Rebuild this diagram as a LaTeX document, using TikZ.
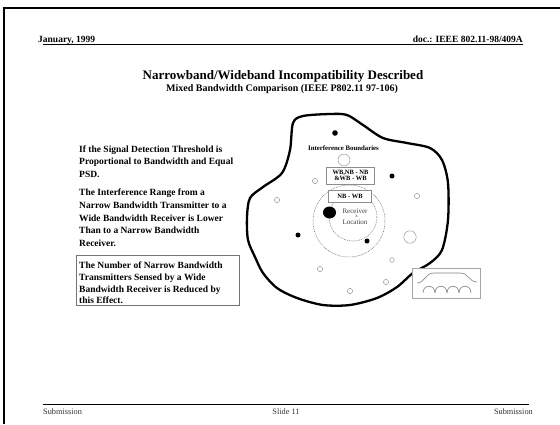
\documentclass[tikz,border=0pt]{standalone}
\usepackage{fontspec}
\setmainfont{Liberation Serif}
\begin{document}
\begin{tikzpicture}[x=1pt,y=-1pt,
  hdr/.style={font=\bfseries\fontsize{9.5}{11}\selectfont, inner sep=0pt},
  body/.style={font=\bfseries\fontsize{9.5}{12.8}\selectfont, align=left, inner sep=0pt, anchor=north west},
  foot/.style={font=\fontsize{8.3}{9}\selectfont, inner sep=0pt, text=black!80},
  lbl/.style={draw=black!45, fill=white, font=\bfseries\fontsize{6.5}{7.5}\selectfont, align=center, inner sep=0pt},
  bigdot/.style={fill=black},
  smallring/.style={draw=black!40, line width=0.5pt},
  rangering/.style={draw=black!60, line width=0.5pt, dash pattern=on 0.8pt off 0.9pt},
  blob/.style={line width=2.3pt, line join=round},
  spec/.style={draw=black!50, line width=0.6pt}]
\useasboundingbox (0,0) rectangle (560,424);
\fill[white] (0,0) rectangle (560,424);
% slide border
\draw[line width=2pt] (4.3,424) -- (4.3,7.8) -- (560,7.8);
% header
\node[hdr, anchor=base west] (date) at (38,42) {January, 1999};
\node[hdr, anchor=base east] (doc) at (523,42) {doc.: IEEE 802.11-98/409A};
\draw[line width=1.2pt] (43,44.6) -- (523,44.6);
% titles
\node[font=\bfseries\fontsize{13}{15}\selectfont, inner sep=0pt, anchor=base] (title) at (283,79.5) {Narrowband/Wideband Incompatibility Described};
\node[font=\bfseries\fontsize{10}{11}\selectfont, inner sep=0pt, anchor=base] (subtitle) at (282,91.5) {Mixed Bandwidth Comparison (IEEE P802.11 97-106)};
% body text
\node[body] (p1) at (79,145.2) {If the Signal Detection Threshold is\\Proportional to Bandwidth and Equal\\PSD.};
\node[body] (p2) at (79,188.7) {The Interference Range from a\\Narrow Bandwidth Transmitter to a\\Wide Bandwidth Receiver is Lower\\Than to a Narrow Bandwidth\\Receiver.};
\node[draw=black!55, line width=0.6pt, anchor=north west, minimum width=163pt, minimum height=50pt, inner sep=0pt] (frame) at (76,255) {};
\node[body, font=\bfseries\fontsize{9.5}{11.8}\selectfont] (p3) at (79,261.7) {The Number of Narrow Bandwidth\\Transmitters Sensed by a Wide\\Bandwidth Receiver is Reduced by\\this Effect.};
% interference area
\draw[blob] plot[smooth cycle, tension=0.5] coordinates {
 (303,116) (330,114) (347,115) (363,125) (383,138) (407,143) (430,148)
 (442,160) (448,183) (448,220) (442,250) (430,263) (413,273) (397,287)
 (377,298) (350,305) (323,305) (297,298) (277,288) (263,273) (255,257)
 (248,240) (247,217) (250,198) (263,187) (282,173) (290,150) (293,123)};
% ranges
\draw[rangering] (349,221) circle (36);
\draw[rangering] (353,217) circle (24);
% transmitters
\fill[bigdot] (335,133) circle (2.8);
\fill[bigdot] (392,176) circle (2.5);
\fill[bigdot] (298,235) circle (2.5);
\fill[bigdot] (367,241) circle (2.5);
\draw[smallring] (344,160) circle (6);
\draw[smallring] (315,181) circle (2.6);
\draw[smallring] (417,196) circle (2.6);
\draw[smallring] (277,200) circle (2.6);
\draw[smallring] (410,237) circle (6.2);
\draw[smallring] (392,260) circle (2.3);
\draw[smallring] (320,269) circle (2.6);
\draw[smallring] (386,282) circle (2.6);
\draw[smallring] (350,291) circle (2.6);
% labels
\node[font=\bfseries\fontsize{6.8}{8}\selectfont, inner sep=0pt] (ib) at (343.5,148) {Interference Boundaries};
\node[lbl, minimum width=48pt, minimum height=17pt] (wbnb) at (350.5,175.5) {WB,NB - NB\\[-1pt]\&WB - WB};
\node[lbl, minimum width=43pt, minimum height=12pt] (nbwb) at (350,196) {NB - WB};
% receiver
\fill (329.5,212.5) ellipse (6.5 and 6);
\node[font=\fontsize{7}{8}\selectfont, inner sep=0pt, text=black!75] (rx) at (355,211) {Receiver};
\node[font=\fontsize{5}{6}\selectfont, inner sep=0pt, text=black!75] (rxx) at (356.5,216.5) {x};
\node[font=\fontsize{7}{8}\selectfont, inner sep=0pt, text=black!75] (loc) at (355,222) {Location};
% spectrum inset
\node[draw=black!35, fill=white, minimum width=68pt, minimum height=30pt, inner sep=0pt] (inset) at (446,283) {};
\draw[spec] (417,283) .. controls (425,283) and (425,273) .. (434,273) -- (460,273) .. controls (469,273) and (469,282) .. (477,282);
\foreach \s in {423,435,447,459}{
  \draw[spec] (\s,293) .. controls (\s,284) and (\s+12,284) .. (\s+12,293);
}
% footer
\draw[line width=1.3pt] (43,404.5) -- (529,404.5);
\node[foot, anchor=base west] (fl) at (43,414.5) {Submission};
\node[foot, anchor=base] (fc) at (286,414.5) {Slide 11};
\node[foot, anchor=base east] (fr) at (533,414.5) {Submission};
\end{tikzpicture}
\end{document}
